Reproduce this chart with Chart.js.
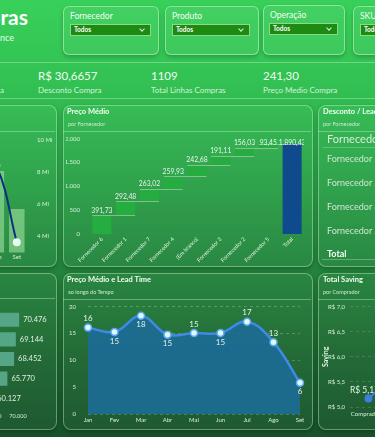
<!DOCTYPE html>
<html lang="pt-BR">
<head>
<meta charset="utf-8">
<script src="https://cdn.jsdelivr.net/npm/chart.js@4.4.0/dist/chart.umd.min.js"></script>
<style>
  body {
    margin: 0; width: 375px; height: 437px; overflow: hidden; position: relative;
    background: linear-gradient(180deg, #38d05a 0%, #32c052 20%, #2ba349 40%, #24863d 60%, #1d6831 80%, #17522a 100%);
    font-family: Lato, sans-serif; color: #fff;
  }
  .abs { position: absolute; white-space: nowrap; }
  .card {
    position: absolute; border: 1px solid rgba(210,255,210,0.5); border-radius: 6px;
    background: rgba(255,255,255,0.05); box-shadow: 0 2px 4px rgba(0,0,0,0.22);
  }
  .panel {
    position: absolute; border: 1px solid rgba(210,255,210,0.4); border-radius: 8px;
    background: rgba(255,255,255,0.03); box-shadow: 0 2px 5px rgba(0,0,0,0.25);
  }
  .flabel { font-size: 8.5px; color: #f2fff2; }
  .drop {
    position: absolute; background: #1d8a12; border: 1px solid #8fd88a;
    font-size: 6.5px; font-weight: 700; line-height: 10px; padding-left: 3px; box-sizing: border-box; height: 12px;
  }
  .chev {
    position: absolute; right: 6px; top: 2px; width: 3px; height: 3px;
    border-right: 1px solid #d6f5d6; border-bottom: 1px solid #d6f5d6; transform: rotate(45deg);
  }
  .kv { font-size: 11.5px; color: #effff0; }
  .kl { font-size: 8px; color: #d4f2d8; }
  .hline { position: absolute; height: 1px; background: rgba(220,255,220,0.35); }
  .ptitle { font-size: 7.5px; font-weight: 700; color: #f2fff2; }
  .psub { font-size: 5.5px; color: #cfe9d2; }
  .cv { position: absolute; }
  .trow { font-size: 9px; color: #cfe6d3; }
</style>
</head>
<body>
<!-- cabeçalho -->
<div class="abs" style="right:347px;top:4px;font-size:21px;font-weight:700;color:#fff;">Compras</div>
<div class="abs" style="right:361px;top:32px;font-size:9px;color:#e8ffe8;">Performance</div>

<div class="card" style="left:63px;top:6px;width:94px;height:47px;"></div>
<div class="abs flabel" style="left:70px;top:11px;">Fornecedor</div>
<div class="drop" style="left:70px;top:24px;width:81px;">Todos<span class="chev"></span></div>

<div class="card" style="left:165px;top:6px;width:92px;height:47px;"></div>
<div class="abs flabel" style="left:172px;top:11px;">Produto</div>
<div class="drop" style="left:172px;top:24px;width:78px;">Todos<span class="chev"></span></div>

<div class="card" style="left:263px;top:5px;width:80px;height:48px;"></div>
<div class="abs flabel" style="left:270px;top:10px;">Operação</div>
<div class="drop" style="left:269px;top:23px;width:69px;">Todos<span class="chev"></span></div>

<div class="card" style="left:353px;top:6px;width:60px;height:47px;"></div>
<div class="abs flabel" style="left:360px;top:11px;">SKU</div>
<div class="drop" style="left:360px;top:24px;width:50px;">Todos<span class="chev"></span></div>

<div class="hline" style="left:0;top:62px;width:375px;"></div>
<div class="abs kv" style="right:377px;top:69px;">R$ 1,2 Mi</div>
<div class="abs kl" style="right:371px;top:85px;">Economia</div>
<div class="abs kv" style="left:38px;top:69px;">R$ 30,6657</div>
<div class="abs kl" style="left:38px;top:85px;">Desconto Compra</div>
<div class="abs kv" style="left:151px;top:69px;">1109</div>
<div class="abs kl" style="left:151px;top:85px;">Total Linhas Compras</div>
<div class="abs kv" style="left:263px;top:69px;">241,30</div>
<div class="abs kl" style="left:263px;top:85px;">Preço Medio Compra</div>
<div class="hline" style="left:0;top:98px;width:375px;"></div>

<!-- linha 1 -->
<div class="panel" style="left:-200px;top:105px;width:255px;height:160px;"></div>
<div class="hline" style="left:-200px;top:131px;width:255px;"></div>
<div class="cv" style="left:-163px;top:122px;width:220px;height:144px;"><canvas id="volume"></canvas></div>

<div class="panel" style="left:63px;top:105px;width:248px;height:160px;"></div>
<div class="abs ptitle" style="left:67px;top:107px;">Preço Médio</div>
<div class="abs psub" style="left:68px;top:121px;">por Fornecedor</div>
<div class="hline" style="left:63px;top:131px;width:248px;"></div>
<div class="cv" style="left:66px;top:125px;width:238px;height:137px;"><canvas id="waterfall"></canvas></div>

<div class="panel" style="left:318px;top:105px;width:90px;height:160px;"></div>
<div class="abs ptitle" style="left:323px;top:107px;">Desconto / Lead Time</div>
<div class="abs psub" style="left:323px;top:121px;">por Fornecedor</div>
<div class="hline" style="left:318px;top:131px;width:90px;"></div>
<div id="tabela"></div>

<!-- linha 2 -->
<div class="panel" style="left:-200px;top:273px;width:255px;height:155px;"></div>
<div class="hline" style="left:-200px;top:298px;width:255px;"></div>
<div class="cv" style="left:-164px;top:309px;width:219px;height:114px;"><canvas id="produtos"></canvas></div>

<div class="panel" style="left:63px;top:273px;width:248px;height:155px;"></div>
<div class="abs ptitle" style="left:67px;top:275px;">Preço Médio e Lead Time</div>
<div class="abs psub" style="left:68px;top:289px;">ao longo do Tempo</div>
<div class="hline" style="left:63px;top:299px;width:248px;"></div>
<div class="cv" style="left:64px;top:291px;width:246px;height:139px;"><canvas id="leadtime"></canvas></div>

<div class="panel" style="left:318px;top:273px;width:90px;height:155px;"></div>
<div class="abs ptitle" style="left:323px;top:275px;">Total Saving</div>
<div class="abs psub" style="left:323px;top:289px;">por Comprador</div>
<div class="hline" style="left:318px;top:299px;width:90px;"></div>
<div class="cv" style="left:318px;top:298px;width:112px;height:121px;"><canvas id="saving"></canvas></div>

<script>
// dados
const meses = ["Jan", "Fev", "Mar", "Abr", "Mai", "Jun", "Jul", "Ago", "Set"];
const volumeBarras = [8.4, 8.7, 9.0, 8.5, 8.8, 8.6, 9.1, 8.06, 5.69]; // Mi
const volumeLinha = [8.9, 9.3, 9.6, 8.8, 9.2, 9.0, 9.5, 8.4, 3.63]; // Mi
const volumeTicks = [4, 6, 8, 10];

const fornecedores = ["Fornecedor 6", "Fornecedor 1", "Fornecedor 7", "Fornecedor 4", "(Em branco)", "Fornecedor 3", "Fornecedor 2", "Fornecedor 5"];
const precoMedio = [391.73, 292.48, 263.02, 259.93, 242.68, 191.11, 156.03, 93.45];

const tabelaLinhas = ["Fornecedor 1", "Fornecedor 2", "Fornecedor 3", "Fornecedor 5"];

const produtos = ["Produto 1", "Produto 2", "Produto 3", "Produto 4", "Produto 5"];
const produtoValores = [70476, 69144, 68452, 65770, 60127];
const produtoTicks = [0, 10000, 20000, 30000, 40000, 50000, 60000, 70000];

const leadTime = [16.1, 15.3, 18.3, 14.8, 15.1, 15.1, 17.2, 13.4, 5.85];

const compradores = ["Comprador A", "Comprador B"];
const saving = [5.17, 5.81];

Chart.defaults.font.family = "Lato, sans-serif";
Chart.defaults.color = "#d6eed9";

const fmtBR = (v, d) => {
  const [i, f] = Math.abs(v).toFixed(d).split(".");
  return (v < 0 ? "-" : "") + i.replace(/\B(?=(\d{3})+(?!\d))/g, ".") + (f ? "," + f : "");
};
const tickFont = { size: 6 };
const noGrid = { display: false, drawTicks: false };
const noBorder = { display: false };

// tabela
document.getElementById("tabela").innerHTML =
  `<div class="abs" style="left:327px;top:132px;font-size:11px;color:#d8ecdb;">Fornecedor</div>
   <div class="hline" style="left:322px;top:147px;width:60px;background:rgba(220,255,220,0.25)"></div>` +
  tabelaLinhas.map((t, i) => `<div class="abs trow" style="left:327px;top:${153 + i * 24}px;">${t}</div>`).join("") +
  `<div class="abs trow" style="left:327px;top:248px;font-weight:700;color:#f0fff0;">Total</div>
   <div class="hline" style="left:322px;top:259px;width:60px;background:rgba(220,255,220,0.3)"></div>`;

// volume (parcial)
new Chart(document.getElementById("volume"), {
  data: {
    labels: meses,
    datasets: [
      { type: "line", data: volumeLinha, borderColor: "#0c2f82", borderWidth: 2, tension: 0.4,
        pointRadius: 3, pointBackgroundColor: "#e4fff0", pointBorderColor: "#e4fff0" },
      { type: "bar", data: volumeBarras, backgroundColor: "rgba(160,225,160,0.6)",
        barPercentage: 0.76, categoryPercentage: 1 },
    ],
  },
  options: {
    responsive: true, maintainAspectRatio: false, animation: false,
    plugins: { legend: { display: false }, tooltip: { enabled: false } },
    scales: {
      x: { grid: noGrid, border: noBorder, ticks: { font: tickFont, padding: 1 }, afterFit: (s) => { s.height = 12; } },
      y: {
        position: "right", min: 3, max: 10.25, grid: noGrid, border: noBorder,
        afterBuildTicks: (s) => { s.ticks = volumeTicks.map((v) => ({ value: v })); },
        ticks: { font: tickFont, padding: 10, callback: (v) => v + " Mi" },
        afterFit: (s) => { s.width = 30; },
      },
    },
  },
});

// waterfall
let acum = 0;
const wfData = precoMedio.map((v) => { const ini = acum; acum += v; return [ini, acum]; });
wfData.push([0, acum]);
const wfValores = [...precoMedio, acum];
const wfLabels = [...fornecedores, "Total"];

const waterfallExtras = {
  id: "waterfallExtras",
  afterDatasetsDraw(chart) {
    const { ctx, chartArea, scales: { y } } = chart;
    const bars = chart.getDatasetMeta(0).data;
    ctx.save();
    ctx.strokeStyle = "rgba(205,215,205,0.55)";
    ctx.lineWidth = 1;
    for (let i = 0; i < bars.length - 1; i++) {
      const yy = Math.round(y.getPixelForValue(wfData[i][1])) + 0.5;
      ctx.beginPath();
      ctx.moveTo(bars[i].x - bars[i].width / 2, yy);
      ctx.lineTo(bars[i + 1].x + bars[i + 1].width / 2, yy);
      ctx.stroke();
    }
    ctx.fillStyle = "#e8f4e8";
    ctx.font = "6.8px Lato";
    ctx.textAlign = "center";
    ctx.textBaseline = "middle";
    bars.forEach((b, i) => {
      const ly = Math.max(Math.min(b.y, b.base) - 5, chartArea.top + 4);
      ctx.fillText(fmtBR(wfValores[i], 2), b.x, ly);
    });
    ctx.restore();
  },
};

new Chart(document.getElementById("waterfall"), {
  type: "bar",
  data: {
    labels: wfLabels,
    datasets: [{
      data: wfData,
      backgroundColor: wfLabels.map((l, i) => (i === wfLabels.length - 1 ? "#0f4a8c" : "#25ad40")),
      barPercentage: 0.8, categoryPercentage: 1,
    }],
  },
  options: {
    responsive: true, maintainAspectRatio: false, animation: false,
    plugins: { legend: { display: false }, tooltip: { enabled: false } },
    scales: {
      x: {
        grid: noGrid, border: noBorder,
        ticks: { font: { size: 5.5 }, color: "#e4f4e4", minRotation: 45, maxRotation: 45, autoSkip: false, padding: 2 },
        afterFit: (s) => { s.height = 28; },
      },
      y: {
        min: 0, max: 2000, grid: noGrid, border: noBorder,
        ticks: { stepSize: 500, font: tickFont, padding: 10, callback: (v) => fmtBR(v, 0) },
        afterFit: (s) => { s.width = 24; },
      },
    },
  },
  plugins: [waterfallExtras],
});

// produtos (parcial)
const produtoLabels = {
  id: "produtoLabels",
  afterDatasetsDraw(chart) {
    const { ctx } = chart;
    ctx.save();
    ctx.fillStyle = "#dff0e4";
    ctx.font = "7.5px Lato";
    ctx.textAlign = "left";
    ctx.textBaseline = "middle";
    chart.getDatasetMeta(0).data.forEach((b, i) => ctx.fillText(fmtBR(produtoValores[i], 0), b.x + 4, b.y));
    ctx.restore();
  },
};

new Chart(document.getElementById("produtos"), {
  type: "bar",
  data: {
    labels: produtos,
    datasets: [{ data: produtoValores, backgroundColor: "#55a687", barPercentage: 0.72, categoryPercentage: 1 }],
  },
  options: {
    indexAxis: "y",
    responsive: true, maintainAspectRatio: false, animation: false,
    layout: { padding: { left: 4, right: 24.5, top: 1 } },
    plugins: { legend: { display: false }, tooltip: { enabled: false } },
    scales: {
      x: {
        min: 0, max: 75000, grid: noGrid, border: noBorder,
        afterBuildTicks: (s) => { s.ticks = produtoTicks.map((v) => ({ value: v })); },
        ticks: { font: { size: 5.5 }, padding: 5, autoSkip: false, minRotation: 0, maxRotation: 0,
          callback: (v) => fmtBR(v, 0) },
        afterFit: (s) => { s.height = 15; },
      },
      y: { display: false },
    },
  },
  plugins: [produtoLabels],
});

// lead time
const posRotulo = ["cima", "baixo", "baixo", "baixo", "cima", "baixo", "cima", "cima", "baixo"];
const leadLabels = {
  id: "leadLabels",
  afterDatasetsDraw(chart) {
    const { ctx } = chart;
    ctx.save();
    ctx.fillStyle = "#e6f2ea";
    ctx.font = "8px Lato";
    ctx.textAlign = "center";
    ctx.textBaseline = "middle";
    chart.getDatasetMeta(0).data.forEach((p, i) => {
      ctx.fillText(Math.round(leadTime[i]), p.x, p.y + (posRotulo[i] === "cima" ? -9 : 9));
    });
    ctx.restore();
  },
};

new Chart(document.getElementById("leadtime"), {
  type: "line",
  data: {
    labels: meses,
    datasets: [{
      data: leadTime, borderColor: "#3f8ae6", borderWidth: 2.5, tension: 0.4,
      fill: "origin", backgroundColor: "rgba(28,108,146,0.95)",
      pointRadius: 3.5, pointBackgroundColor: "#e2f7ff", pointBorderColor: "#58a8f2", pointBorderWidth: 1.5,
    }],
  },
  options: {
    responsive: true, maintainAspectRatio: false, animation: false,
    layout: { padding: { right: 10 } },
    plugins: { legend: { display: false }, tooltip: { enabled: false } },
    scales: {
      x: { grid: noGrid, border: noBorder, ticks: { font: tickFont, padding: 2 }, afterFit: (s) => { s.height = 12; } },
      y: {
        min: 0, max: 20,
        grid: { color: "rgba(255,255,255,0.22)", drawTicks: false },
        border: { display: false, dash: [3, 3] },
        ticks: { stepSize: 5, font: tickFont, padding: 12 },
        afterFit: (s) => { s.width = 24; },
      },
    },
  },
  plugins: [leadLabels],
});

// saving
const savingLabels = {
  id: "savingLabels",
  afterDatasetsDraw(chart) {
    const { ctx } = chart;
    ctx.save();
    ctx.fillStyle = "#e6f2ea";
    ctx.font = "8.5px Lato";
    ctx.textAlign = "center";
    ctx.textBaseline = "middle";
    chart.getDatasetMeta(0).data.forEach((p, i) => {
      ctx.fillText("R$ " + fmtBR(saving[i], 2), p.x - 4, p.y - 8);
    });
    ctx.restore();
  },
};

new Chart(document.getElementById("saving"), {
  type: "line",
  data: {
    labels: compradores,
    datasets: [{
      data: saving, borderColor: "#3d7fe0", borderWidth: 2,
      pointRadius: 3, pointBackgroundColor: "#3d7fe0", pointBorderColor: "#3d7fe0",
    }],
  },
  options: {
    responsive: true, maintainAspectRatio: false, animation: false,
    plugins: { legend: { display: false }, tooltip: { enabled: false } },
    scales: {
      x: { offset: true, grid: noGrid, border: noBorder,
        ticks: { font: tickFont, padding: 3, minRotation: 0, maxRotation: 0, autoSkip: false },
        afterFit: (s) => { s.height = 12; } },
      y: {
        min: 5, max: 7,
        grid: { color: "rgba(255,255,255,0.15)", drawTicks: false },
        border: { display: false, dash: [3, 3] },
        ticks: { stepSize: 0.5, font: tickFont, padding: 5, callback: (v) => "R$ " + fmtBR(v, 1) },
        title: { display: true, text: "Saving", font: { size: 7, weight: "bold" }, color: "#e2f5e4", padding: 4 },
        afterFit: (s) => { s.width = 32; },
      },
    },
  },
  plugins: [savingLabels],
});
</script>
</body>
</html>
